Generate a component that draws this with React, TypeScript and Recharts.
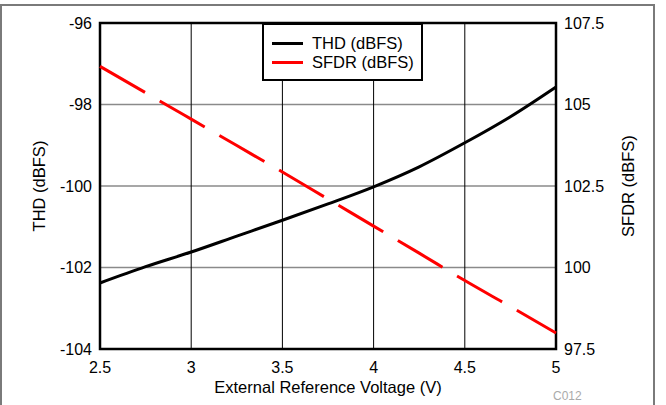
import React from "react";
import {
  LineChart,
  Line,
  XAxis,
  YAxis,
  CartesianGrid,
  ReferenceArea,
} from "recharts";

const voltage = [2.5, 2.75, 3, 3.25, 3.5, 3.75, 4, 4.25, 4.5, 4.75, 5];
const thd = [-102.38, -101.98, -101.62, -101.23, -100.84, -100.44, -100.02, -99.53, -98.94, -98.3, -97.57];
const sfdr = [106.17, 105.36, 104.55, 103.74, 102.93, 102.1, 101.27, 100.44, 99.6, 98.8, 97.99];

const xTicks = [2.5, 3, 3.5, 4, 4.5, 5];
const thdTicks = [-104, -102, -100, -98, -96];
const sfdrTicks = [97.5, 100, 102.5, 105, 107.5];

const data = voltage.map((v, i) => ({ v, thd: thd[i], sfdr: sfdr[i] }));

const FONT = "'Liberation Sans', Arial, sans-serif";
const tickStyle = { fontSize: 16, fill: "#000", fontFamily: FONT };

function LegendBox() {
  const rows = [
    { name: "THD (dBFS)", color: "#000" },
    { name: "SFDR (dBFS)", color: "#ff0000" },
  ];
  return (
    <div
      style={{
        position: "absolute",
        left: 262,
        top: 23,
        width: 161,
        height: 58,
        boxSizing: "border-box",
        border: "2px solid #000",
        background: "#fff",
        paddingTop: 9,
        fontFamily: FONT,
        fontSize: 16.5,
        lineHeight: "19px",
        color: "#000",
      }}
    >
      {rows.map((r) => (
        <div key={r.name} style={{ display: "flex", alignItems: "center", height: 19 }}>
          <div style={{ width: 31, height: 3, background: r.color, marginLeft: 8, marginRight: 9 }} />
          <span>{r.name}</span>
        </div>
      ))}
    </div>
  );
}

export default function App() {
  return (
    <div style={{ position: "absolute", left: 0, top: 0, width: 666, height: 405, background: "#fff", overflow: "hidden" }}>
      <div
        style={{
          position: "absolute",
          left: 0,
          top: 4,
          width: 651,
          height: 420,
          borderTop: "2px solid #7a7a7a",
          borderLeft: "2px solid #7a7a7a",
          borderRight: "2px solid #7a7a7a",
        }}
      />
      <LineChart width={666} height={405} data={data} margin={{ top: 23, right: 0, bottom: 0, left: 0 }} style={{ position: "absolute", left: 0, top: 0 }}>
        <CartesianGrid horizontal={true} vertical={false} stroke="#8a8a8a" strokeWidth={1.5} yAxisId="thd" />
        <CartesianGrid horizontal={false} vertical={true} stroke="#000" strokeWidth={1} yAxisId="thd" />
        <XAxis
          dataKey="v"
          type="number"
          domain={[2.5, 5]}
          ticks={xTicks}
          axisLine={false}
          tickLine={false}
          tickMargin={7}
          height={56}
          tick={tickStyle}
          label={{
            value: "External Reference Voltage (V)",
            position: "insideBottom",
            offset: 12,
            style: { fontSize: 16.5, fill: "#000", fontFamily: FONT },
          }}
        />
        <YAxis
          yAxisId="thd"
          orientation="left"
          domain={[-104, -96]}
          ticks={thdTicks}
          axisLine={false}
          tickLine={false}
          width={100}
          tick={tickStyle}
          label={(props: any) => {
            const vb = props.viewBox;
            const cx = 45;
            const cy = vb.y + vb.height / 2;
            return (
              <text x={cx} y={cy} transform={`rotate(-90 ${cx} ${cy})`} textAnchor="middle" fontSize={16.5} fontFamily={FONT} fill="#000">
                THD (dBFS)
              </text>
            );
          }}
        />
        <YAxis
          yAxisId="sfdr"
          orientation="right"
          domain={[97.5, 107.5]}
          ticks={sfdrTicks}
          axisLine={false}
          tickLine={false}
          width={110}
          tick={tickStyle}
          label={(props: any) => {
            const vb = props.viewBox;
            const cx = 634;
            const cy = vb.y + vb.height / 2;
            return (
              <text x={cx} y={cy} transform={`rotate(-90 ${cx} ${cy})`} textAnchor="middle" fontSize={16.5} fontFamily={FONT} fill="#000">
                SFDR (dBFS)
              </text>
            );
          }}
        />
        <Line
          yAxisId="thd"
          dataKey="thd"
          name="THD (dBFS)"
          type="monotone"
          stroke="#000"
          strokeWidth={3}
          dot={false}
          isAnimationActive={false}
        />
        <Line
          yAxisId="sfdr"
          dataKey="sfdr"
          name="SFDR (dBFS)"
          type="monotone"
          stroke="#ff0000"
          strokeWidth={3}
          strokeDasharray="52 17"
          dot={false}
          isAnimationActive={false}
        />
        <ReferenceArea
          yAxisId="thd"
          x1={2.5}
          x2={5}
          y1={-104}
          y2={-96}
          fill="none"
          fillOpacity={0}
          stroke="#000"
          strokeWidth={2.5}
          ifOverflow="visible"
        />
      </LineChart>
      <LegendBox />
      <div
        style={{
          position: "absolute",
          left: 553,
          top: 389,
          fontSize: 12,
          color: "#aaa",
          fontFamily: FONT,
        }}
      >
        C012
      </div>
    </div>
  );
}
